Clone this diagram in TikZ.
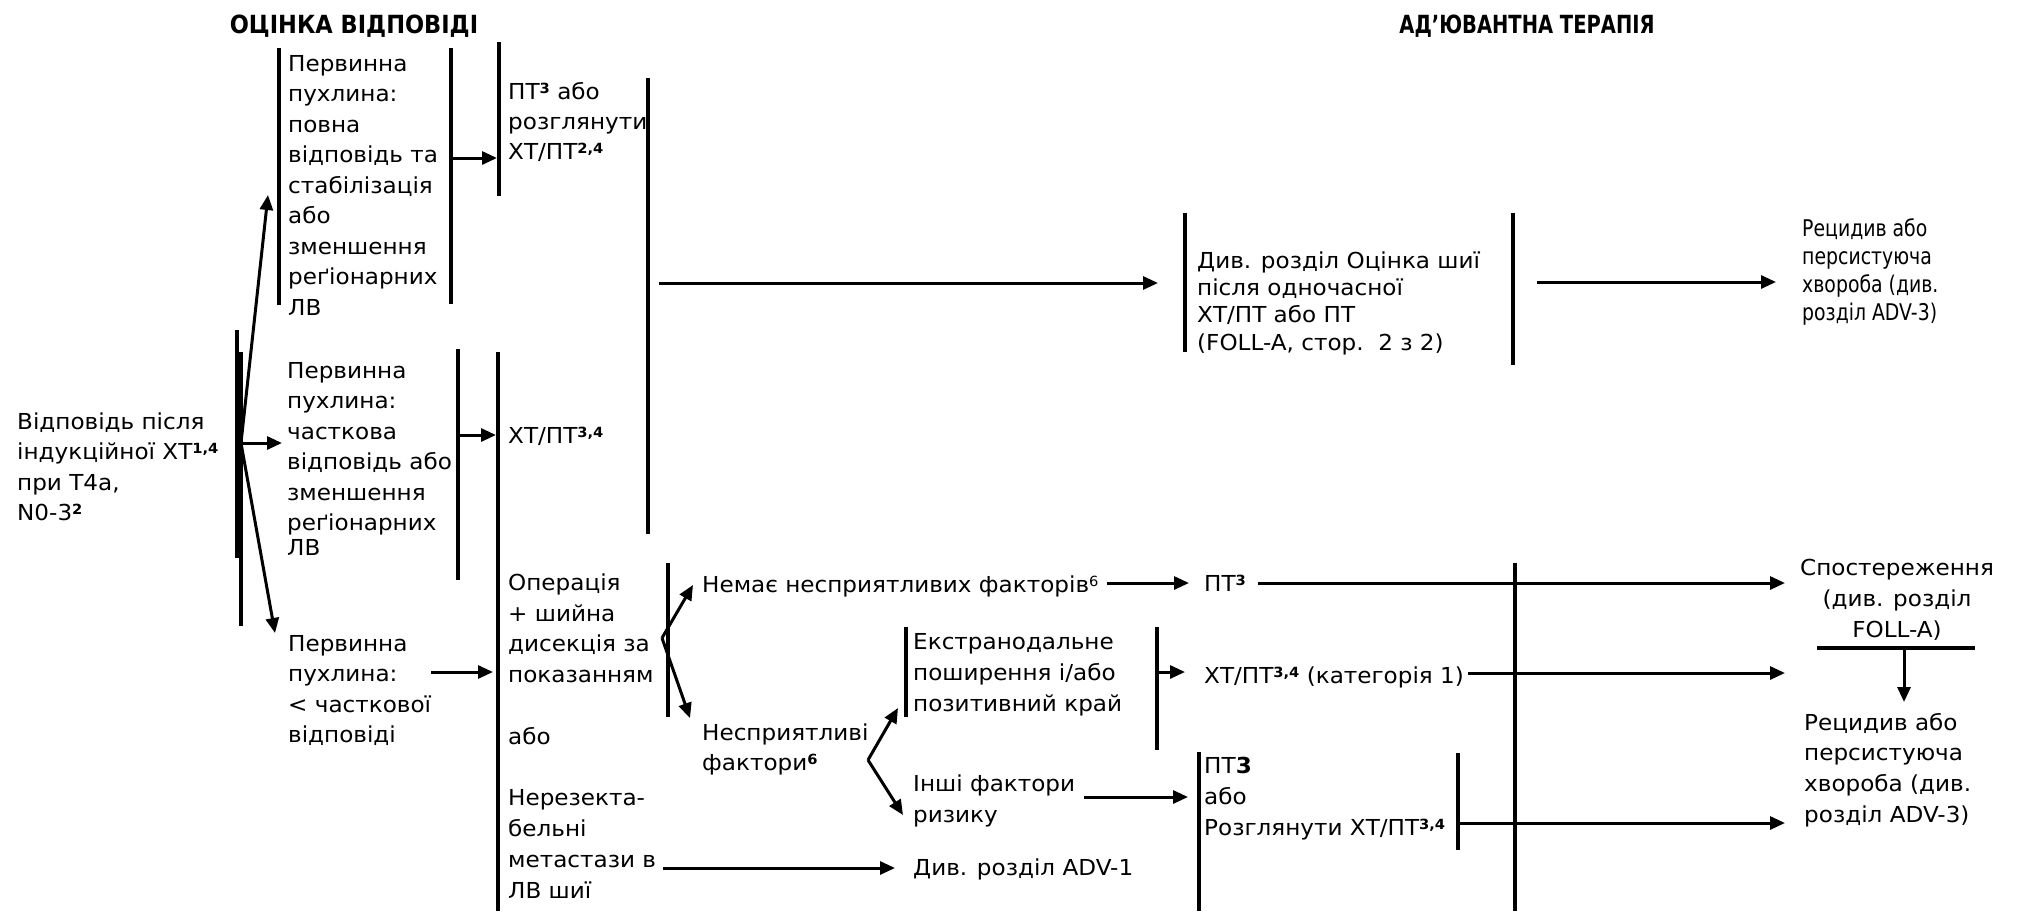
\documentclass[tikz,border=0pt]{standalone}
\usepackage{fontspec}
\setmainfont{DejaVu Sans}[FakeStretch=1.05]
\newfontfamily\narrowfont{DejaVu Sans}[FakeStretch=0.82]
\newfontfamily\titlefont{DejaVu Sans}[FakeStretch=0.9]
\newfontfamily\titlefontb{DejaVu Sans}[FakeStretch=0.78]
\usetikzlibrary{arrows.meta}
\newcommand\sps[1]{\raisebox{6pt}{\fontsize{14}{14}\selectfont\bfseries #1}}
\newcommand\spn[1]{\raisebox{6pt}{\fontsize{14}{14}\selectfont #1}}
\newcommand\fl{\rule{0pt}{21pt}}
\tikzset{
  bar/.style={line width=3.6pt},
  conn/.style={line width=3pt,-{Triangle[length=15pt,width=13pt]}},
  txt/.style={anchor=north west,inner sep=0pt,align=left,font=\fontsize{22}{30.5}\selectfont},
  ttl/.style={anchor=base,inner sep=0pt,font=\titlefont\bfseries\fontsize{25}{28}\selectfont},
  ttlb/.style={anchor=base,inner sep=0pt,font=\titlefontb\bfseries\fontsize{25}{28}\selectfont}
}
\begin{document}
\begin{tikzpicture}[x=1pt,y=-1pt]
\useasboundingbox (0,0) rectangle (2018,911);
% titles
\node[ttl] (t1) at (354,33) {ОЦІНКА ВІДПОВІДІ};
\node[ttlb] (t2) at (1527,33) {АД’ЮВАНТНА ТЕРАПІЯ};
% text nodes
\node[txt] (start) at (17,408) {\fl Відповідь після\\індукційної ХТ\sps{1,4}\\при T4a,\\N0-3\sps{2}};
\node[txt] (full) at (288,50) {\fl Первинна\\пухлина:\\повна\\відповідь та\\стабілізація\\або\\зменшення\\реґіонарних\\ЛВ};
\node[txt,font=\fontsize{22}{30}\selectfont] (pt1) at (508,78) {\fl ПТ\sps{3} або\\розглянути\\ХТ/ПТ\sps{2,4}};
\node[txt,font=\fontsize{22}{27.3}\selectfont] (foll) at (1197,247) {\fl Див. розділ Оцінка шиї\\після одночасної\\ХТ/ПТ або ПТ\\(FOLL-A, стор.\ \ 2 з 2)};
\node[txt,font=\narrowfont\fontsize{23}{28}\selectfont] (rec1) at (1802,215) {\fl Рецидив або\\персистуюча\\хвороба (див.\\розділ ADV-3)};
\node[txt] (part) at (287,357) {\fl Первинна\\пухлина:\\часткова\\відповідь або\\зменшення\\реґіонарних\\[-6pt]ЛВ};
\node[txt] (xtpt) at (508,422) {\fl ХТ/ПТ\sps{3,4}};
\node[txt] (less) at (288,630) {\fl Первинна\\пухлина:\\< часткової\\відповіді};
\node[txt,font=\fontsize{22}{30.8}\selectfont] (oper) at (508,569) {\fl Операція\\+ шийна\\дисекція за\\показанням\\[30.8pt]або\\[30.8pt]Нерезекта-\\бельні\\метастази в\\ЛВ шиї};
\node[txt] (nemae) at (702,571) {\fl Немає несприятливих факторів\spn{6}};
\node[txt] (pt2) at (1204,570) {\fl ПТ\sps{3}};
\node[txt,font=\fontsize{22}{30}\selectfont] (nespr) at (702,719) {\fl Несприятливі\\фактори\sps{6}};
\node[txt,font=\fontsize{22}{31}\selectfont] (ekstr) at (913,628) {\fl Екстранодальне\\поширення і/або\\позитивний край};
\node[txt] (xtpt2) at (1204,662) {\fl ХТ/ПТ\sps{3,4} (категорія 1)};
\node[txt,font=\fontsize{22}{31}\selectfont] (inshi) at (913,770) {\fl Інші фактори\\ризику};
\node[txt,font=\fontsize{22}{31}\selectfont] (pt3) at (1204,752) {\fl ПТ\textbf{3}\\або\\Розглянути ХТ/ПТ\sps{3,4}};
\node[txt] (adv1) at (913,854) {\fl Див. розділ ADV-1};
\node[txt,anchor=north,align=center,font=\fontsize{22}{31}\selectfont] (spost) at (1897,554) {\fl Спостереження\\(див. розділ\\FOLL-A)};
\node[txt,font=\fontsize{22}{30.7}\selectfont] (rec2) at (1804,709) {\fl Рецидив або\\персистуюча\\хвороба (див.\\розділ ADV-3)};
% bars
\draw[bar] (237,330) -- (237,558);
\draw[bar] (241,352) -- (241,626);
\draw[bar] (279,48) -- (279,305);
\draw[bar] (451,48) -- (451,304);
\draw[bar] (499,42) -- (499,196);
\draw[bar] (648,78) -- (648,534);
\draw[bar] (1185,213) -- (1185,352);
\draw[bar] (1513,213) -- (1513,365);
\draw[bar] (458,349) -- (458,580);
\draw[bar] (498,352) -- (498,911);
\draw[bar] (668,563) -- (668,717);
\draw[bar] (906,627) -- (906,717);
\draw[bar] (1157,627) -- (1157,750);
\draw[bar] (1199,752) -- (1199,911);
\draw[bar] (1458,753) -- (1458,850);
\draw[bar] (1515,563) -- (1515,911);
\draw[bar] (1817,648) -- (1975,648);
% connector coordinates
\coordinate (s0) at (241,443);
\coordinate (fullin) at (268,195);
\coordinate (partin) at (282,443);
\coordinate (lessin) at (275,633);
\coordinate (fullout) at (451,158);
\coordinate (pt1in) at (497,158);
\coordinate (partout) at (458,435);
\coordinate (xtptin) at (496,435);
\coordinate (lessout) at (431,672);
\coordinate (operin) at (493,672);
\coordinate (bigout) at (659,283);
\coordinate (follin) at (1158,283);
\coordinate (follout) at (1537,282);
\coordinate (rec1in) at (1776,282);
\coordinate (opfork) at (662,638);
\coordinate (nemaein) at (693,585);
\coordinate (nesprin) at (690,718);
\coordinate (nemaeout) at (1107,583);
\coordinate (pt2in) at (1189,583);
\coordinate (pt2out) at (1258,583);
\coordinate (spostin) at (1785,583);
\coordinate (nfork) at (868,760);
\coordinate (ekstrin) at (898,708);
\coordinate (inshiin) at (903,815);
\coordinate (ekstrout) at (1157,672);
\coordinate (xtpt2in) at (1185,672);
\coordinate (xtpt2out) at (1468,673);
\coordinate (obsin) at (1785,673);
\coordinate (inshiout) at (1084,797);
\coordinate (pt3in) at (1188,797);
\coordinate (pt3out) at (1458,823);
\coordinate (rec2in) at (1785,823);
\coordinate (metout) at (663,868);
\coordinate (adv1in) at (895,868);
\coordinate (spostout) at (1904,648);
\coordinate (rec2top) at (1904,702);
% connectors
\draw[conn] (s0) -- (fullin);
\draw[conn] (s0) -- (partin);
\draw[conn] (s0) -- (lessin);
\draw[conn] (fullout) -- (pt1in);
\draw[conn] (partout) -- (xtptin);
\draw[conn] (lessout) -- (operin);
\draw[conn] (bigout) -- (follin);
\draw[conn] (follout) -- (rec1in);
\draw[conn] (opfork) -- (nemaein);
\draw[conn] (opfork) -- (nesprin);
\draw[conn] (nemaeout) -- (pt2in);
\draw[conn] (pt2out) -- (spostin);
\draw[conn] (nfork) -- (ekstrin);
\draw[conn] (nfork) -- (inshiin);
\draw[conn] (ekstrout) -- (xtpt2in);
\draw[conn] (xtpt2out) -- (obsin);
\draw[conn] (inshiout) -- (pt3in);
\draw[conn] (pt3out) -- (rec2in);
\draw[conn] (metout) -- (adv1in);
\draw[conn] (spostout) -- (rec2top);
\end{tikzpicture}
\end{document}
